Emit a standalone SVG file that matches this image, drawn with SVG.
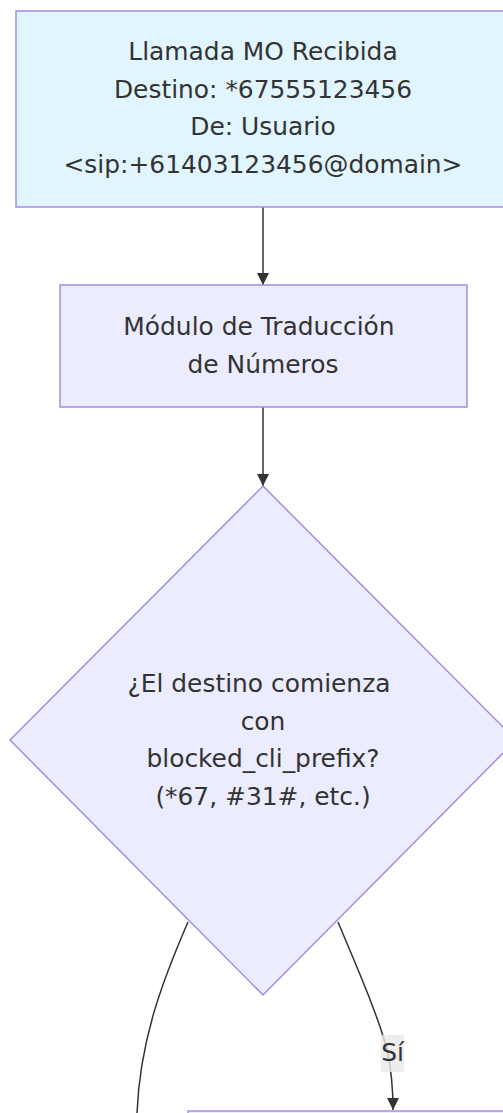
<svg xmlns="http://www.w3.org/2000/svg" width="503" height="1113" viewBox="0 0 503 1113">
<defs>
<marker id="arrow" viewBox="0 0 10 10" refX="10" refY="5" markerWidth="12" markerHeight="12" markerUnits="userSpaceOnUse" orient="auto">
<path d="M0,0 L10,5 L0,10 z" fill="#333"/>
</marker>
</defs>
<style>
.node rect, .node polygon { stroke: #a58be3; stroke-width: 1.5; }
.n-def { fill: #ececff; }
.n-start { fill: #e1f5fe; }
text { font-family: "DejaVu Sans", Verdana, sans-serif; font-size: 24.9px; fill: #333; text-anchor: middle; }
.edge { fill: none; stroke: #333; stroke-width: 1.5; }
</style>
<rect width="503" height="1113" fill="#ffffff"/>
<g id="edges">
<path class="edge" d="M263,207 L263,285" marker-end="url(#arrow)"/>
<path class="edge" d="M263,407 L263,486" marker-end="url(#arrow)"/>
<path class="edge" d="M188,922 C162,982 140,1040 137,1113"/>
<path class="edge" d="M338,922 C358,970 378,1015 387,1050 C392,1072 393,1092 393,1110" marker-end="url(#arrow)"/>
<g id="label-si">
<rect x="381" y="1035" width="23" height="37" fill="#e8e8e8" fill-opacity="0.8"/>
<text x="392.5" y="1061">Sí</text>
</g>
</g>
<g id="start" class="node">
<rect class="n-start" x="16" y="11" width="494" height="196"/>
<text x="263" y="60">Llamada MO Recibida</text>
<text x="263" y="98">Destino: *67555123456</text>
<text x="263" y="135">De: Usuario</text>
<text x="263" y="173">&lt;sip:+61403123456@domain&gt;</text>
</g>
<g id="translate" class="node">
<rect class="n-def" x="60" y="285" width="407" height="122"/>
<text x="259" y="335">Módulo de Traducción</text>
<text x="263" y="373">de Números</text>
</g>
<g id="decision" class="node">
<polygon class="n-def" points="263,486 516,740 263,995 10,740"/>
<text x="259" y="692">¿El destino comienza</text>
<text x="263" y="730">con</text>
<text x="263" y="767">blocked_cli_prefix?</text>
<text x="263" y="805">(*67, #31#, etc.)</text>
</g>
<g id="next" class="node">
<rect class="n-def" x="188" y="1111" width="400" height="100"/>
</g>
</svg>
